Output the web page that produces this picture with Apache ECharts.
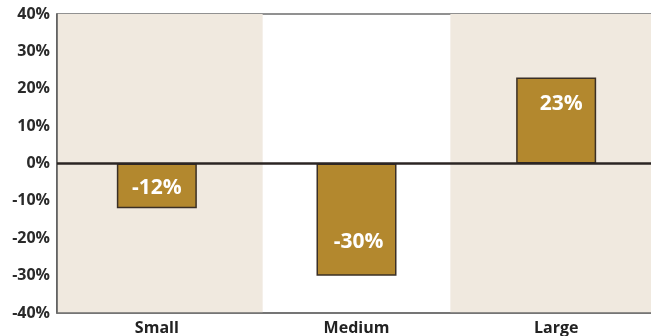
<!DOCTYPE html>
<html>
<head>
<meta charset="utf-8">
<script src="https://cdn.jsdelivr.net/npm/echarts@6/dist/echarts.min.js"></script>
<style>
  html, body { margin: 0; padding: 0; background: #ffffff; }
  #chart { width: 651px; height: 336px; }
</style>
</head>
<body>
<div id="chart"></div>
<script>
// Change by size group, in percent
const categories = ['Small', 'Medium', 'Large'];
const values = [-12, -30, 23];

// Y-axis range and step
const yMin = -40;
const yMax = 40;
const yStep = 10;

// Shaded background bands, measured along the three category slots (0..3)
const shadedBands = [[0, 1.03], [1.97, 3]];

// Label nudges per bar (style only)
const labelOffsets = [[0, 2], [2, 22], [5, -17]];

const FONT = 'Open Sans';

const chart = echarts.init(document.getElementById('chart'));

const barData = values.map((v, i) => ({
  value: v,
  label: { offset: labelOffsets[i] }
}));

chart.setOption({
  animation: false,
  grid: {
    left: 57, right: -5, top: 14, bottom: 23,
    containLabel: false,
    outerBoundsMode: 'none',
    show: true,
    borderColor: '#6e6e6e',
    borderWidth: 1.5,
    backgroundColor: 'transparent'
  },
  xAxis: [
    {
      type: 'category',
      data: categories,
      z: 4,
      axisLine: { onZero: false, lineStyle: { color: '#6e6e6e', width: 1.5 } },
      axisTick: { show: false },
      axisLabel: {
        color: '#222222',
        fontFamily: FONT,
        fontWeight: 'bold',
        fontSize: 16,
        margin: 7
      }
    },
    {
      type: 'value',
      min: 0, max: 3,
      show: false
    }
  ],
  yAxis: {
    type: 'value',
    min: yMin, max: yMax, interval: yStep,
    z: 4,
    axisLine: { show: true, lineStyle: { color: '#555555', width: 1.5 } },
    axisTick: { show: false },
    splitLine: { show: false },
    axisLabel: {
      color: '#2a2a2a',
      fontFamily: FONT,
      fontWeight: 'bold',
      fontSize: 16,
      margin: 7,
      formatter: v => v + '%'
    }
  },
  series: [
    {
      type: 'line',
      xAxisIndex: 1,
      data: [[0, 0]],
      symbol: 'none',
      lineStyle: { opacity: 0 },
      silent: true,
      z: 0,
      markArea: {
        silent: true,
        itemStyle: { color: '#f0e9df' },
        data: shadedBands.map(b => [{ xAxis: b[0] }, { xAxis: b[1] }])
      }
    },
    {
      type: 'bar',
      data: barData,
      barWidth: 80,
      z: 3,
      itemStyle: {
        color: '#b3882e',
        borderColor: '#3a2f25',
        borderWidth: 1.5
      },
      label: {
        show: true,
        position: 'inside',
        color: '#ffffff',
        fontFamily: FONT,
        fontWeight: 'bold',
        fontSize: 21,
        formatter: p => p.value + '%'
      },
      markLine: {
        silent: true,
        symbol: 'none',
        label: { show: false },
        lineStyle: { color: '#2b2523', width: 2.5, type: 'solid' },
        data: [{ yAxis: 0 }]
      }
    }
  ]
});
</script>
</body>
</html>
